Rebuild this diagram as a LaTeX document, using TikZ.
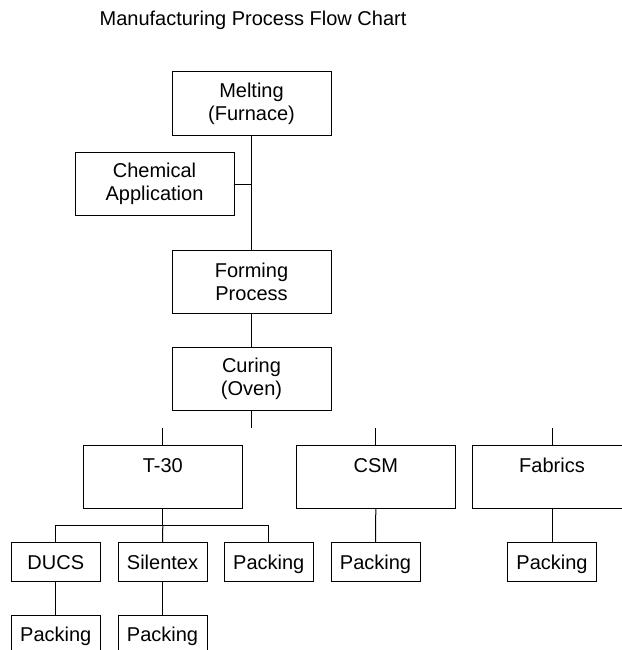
\documentclass[tikz,border=0pt]{standalone}
\usepackage{fontspec}
\setmainfont{Liberation Sans}
\usepackage{tikz}
\usetikzlibrary{positioning}

\begin{document}
\begin{tikzpicture}[
      x=1pt, y=-1pt,
      box_big/.style={
         rectangle,
         draw=black,
         line width=1pt,
         inner sep=0pt,
         minimum width=159pt,
         minimum height=63pt,
         align=center,
         font=\fontsize{20}{23}\selectfont},
      box_small/.style={
         rectangle,
         draw=black,
         line width=1pt,
         inner sep=0pt,
         minimum width=89pt,
         minimum height=38.6pt,
         text height=14.3pt,
         text depth=0pt,
         font=\fontsize{20}{23}\selectfont},
      link_line/.style={
         line width=1pt,
         }
]
      \useasboundingbox (0,0) rectangle (621,650);

      %title
      \node[font=\fontsize{20}{23}\selectfont] (title) at (253,20) {Manufacturing Process Flow Chart};

      %main line
      \node[box_big] (melt) at (251.5,103.5) {Melting\\(Furnace)};
      \node[box_big] (chem) at (154.5,184.3) {Chemical\\Application};
      \node[box_big] (form) at (251.5,281.5) {Forming\\Process};
      \node[box_big] (cure) at (251.5,379.3) {Curing\\(Oven)};

      %products
      \node[box_big] (t30) at (162.8,476.7) {T-30\\~};
      \node[box_big] (csm) at (375.8,476.7) {CSM\\~};
      \node[box_big] (fab) at (552,476.7) {Fabrics\\~};

      \node[box_small] (ducs) at (55.8,562) {DUCS};
      \node[box_small] (sil) at (162.5,562) {Silentex};
      \node[box_small] (pack_t30) at (268.8,562) {Packing};
      \node[box_small] (pack_csm) at (375.5,562) {Packing};
      \node[box_small] (pack_fab) at (552,562) {Packing};
      \node[box_small] (pack_ducs) at (55.8,634.8) {Packing};
      \node[box_small] (pack_sil) at (162.5,634.8) {Packing};

      %free ends
      \coordinate (cure_end) at (251.5,428);
      \coordinate (t30_end) at (t30.north |- cure_end);
      \coordinate (csm_end) at (csm.north |- cure_end);
      \coordinate (fab_end) at (fab.north |- cure_end);
      \coordinate (bus) at (162.8,525.7);

    \foreach \i/\j in {% start/end
      melt.south/form.north,
      chem.east/chem.east -| melt.south,
      form.south/cure.north,
      cure.south/cure_end,
      t30_end/t30.north,
      csm_end/csm.north,
      fab_end/fab.north,
      t30.south/bus,
      bus/sil.north,
      csm.south/pack_csm.north,
      fab.south/pack_fab.north,
      ducs.south/pack_ducs.north,
      sil.south/pack_sil.north}
      \draw [link_line] (\i) -- (\j);

      \draw [link_line] (ducs.north) -- (ducs.north |- bus) -- (pack_t30.north |- bus) -- (pack_t30.north);

\end{tikzpicture}
\end{document}
